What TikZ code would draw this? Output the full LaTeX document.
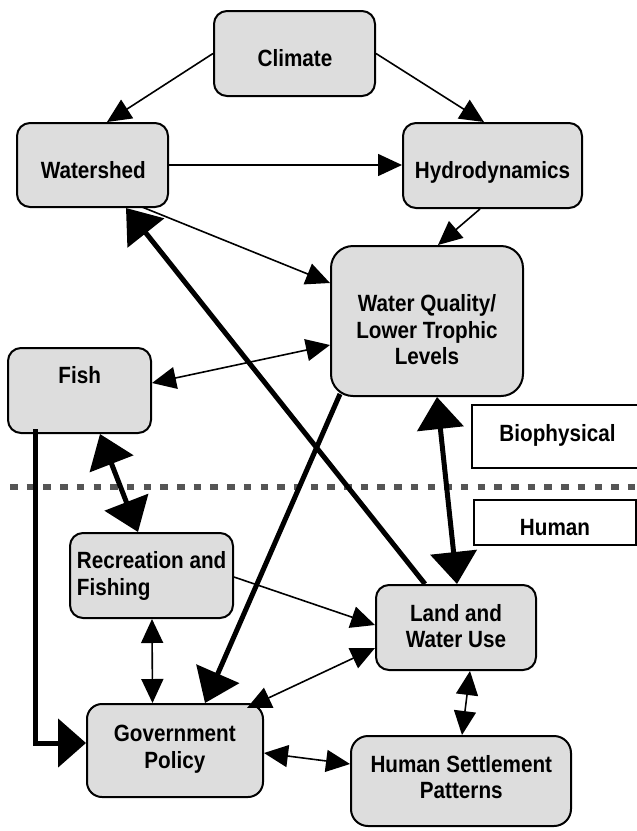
\documentclass[tikz,border=0pt]{standalone}
\usepackage{fontspec}
\setmainfont{Liberation Sans}[FakeStretch=0.88]
\usetikzlibrary{arrows.meta,calc}
\definecolor{boxgray}{RGB}{221,221,221}
\definecolor{dashgray}{RGB}{85,85,85}
\begin{document}
\begin{tikzpicture}[x=1pt,y=-1pt,
  box/.style={draw=black, line width=2pt, fill=boxgray, rounded corners=13pt, inner sep=0pt},
  tagbox/.style={draw=black, line width=2pt, fill=white, inner sep=0pt},
  txt/.style={font=\bfseries\fontsize{23.5}{27}\selectfont, inner sep=0pt, anchor=base},
  thin/.style={line width=1.6pt, -{Triangle[length=24pt,width=22pt]}},
  thinboth/.style={line width=1.6pt, {Triangle[length=24pt,width=22pt]}-{Triangle[length=24pt,width=22pt]}},
  thick/.style={line width=5pt, -{Triangle[length=32pt,width=46pt]}},
  thickboth/.style={line width=5pt, {Triangle[length=32pt,width=46pt]}-{Triangle[length=32pt,width=46pt]}}]
\useasboundingbox (0,0) rectangle (637,831);

% divider
\coordinate (dl) at (10,487);
\coordinate (dr) at (640,487);
\draw[dashgray, line width=6.5pt, dash pattern=on 7.5pt off 9.2pt] (dl) -- (dr);

% tag boxes
\node[tagbox, minimum width=168pt, minimum height=63pt] (bio) at (556,436.5) {};
\node[tagbox, minimum width=162pt, minimum height=45pt] (human) at (555,522.5) {};
\node[txt] (biot) at (557.5,441.7) {Biophysical};
\node[txt] (humant) at (555,535) {Human};

% boxes
\node[box, minimum width=161pt, minimum height=85pt] (climate) at (294.5,53.5) {};
\node[box, minimum width=151pt, minimum height=84pt] (watershed) at (92.5,165) {};
\node[box, minimum width=179pt, minimum height=85pt] (hydro) at (492.5,165.5) {};
\node[box, rounded corners=22pt, minimum width=192pt, minimum height=150pt] (wq) at (427,321) {};
\node[box, minimum width=143pt, minimum height=85pt] (fish) at (79.5,390.5) {};
\node[box, minimum width=163pt, minimum height=85pt] (rec) at (151.5,575.5) {};
\node[box, minimum width=160pt, minimum height=85pt] (land) at (456,627.5) {};
\node[box, rounded corners=15pt, minimum width=176pt, minimum height=93pt] (gov) at (175,750.5) {};
\node[box, rounded corners=17pt, minimum width=220pt, minimum height=90pt] (settle) at (461,781) {};

% texts
\node[txt] (climatet) at (295,66.7) {Climate};
\node[txt] (watershedt) at (93.3,178.3) {Watershed};
\node[txt] (hydrot) at (492.5,178.3) {Hydrodynamics};
\node[txt] (wqt1) at (427,311.7) {Water Quality/};
\node[txt] (wqt2) at (427,338) {Lower Trophic};
\node[txt] (wqt3) at (427,364.5) {Levels};
\node[txt] (fisht) at (79.7,383.3) {Fish};
\node[txt, anchor=base west] (rect1) at (76.7,568.3) {Recreation and};
\node[txt, anchor=base west] (rect2) at (76.7,595.7) {Fishing};
\node[txt] (landt1) at (456,621) {Land and};
\node[txt] (landt2) at (456,647.3) {Water Use};
\node[txt] (govt1) at (174.8,741.7) {Government};
\node[txt] (govt2) at (174.8,768.3) {Policy};
\node[txt] (settlet1) at (461.3,772.3) {Human Settlement};
\node[txt] (settlet2) at (461.3,798.3) {Patterns};

% connectors
\draw[thin] (climate.west) -- ($(watershed.north)+(14.5,0)$);
\draw[thin] (climate.east) -- ($(hydro.north)+(-8.5,0)$);
\draw[thin] (watershed.east) -- (watershed.east -| hydro.west);
\draw[thin] ($(hydro.south)+(-12.5,0)$) -- ($(wq.north)+(11,0)$);
\draw[thin] ($(watershed.south)+(49.5,-1)$) -- ($(wq.west)+(0,-38)$);
\draw[thinboth] ($(fish.east)+(0,-7.5)$) -- ($(wq.west)+(0,24)$);
\draw[thin] ($(rec.east)+(0,1.5)$) -- ($(land.west)+(0,-2.5)$);
\draw[thinboth] ($(rec.south)+(0.5,0)$) -- ($(gov.north)+(-22.5,0)$);
\draw[thinboth] ($(land.west)+(0,20.5)$) -- ($(gov.north east)+(-17,5)$);
\draw[thinboth] ($(land.south)+(14,0)$) -- ($(settle.north)+(1,0)$);
\draw[thinboth] ($(gov.east)+(0,2.5)$) -- ($(settle.west)+(0,-17)$);

\draw[thick] ($(land.north)+(-31,0)$) -- ($(watershed.south)+(33.5,0)$);
\draw[thickboth] ($(fish.south)+(20.5,0)$) -- ($(rec.north)+(-13.5,0)$);
\draw[line width=5pt, -{Triangle[length=28pt,width=48pt]}] ($(fish.south)+(-44.5,-5)$) |- ($(gov.west)+(0,-7.5)$);
\draw[thick] ($(wq.south)+(-87,-3)$) -- ($(gov.north)+(30,0)$);
\draw[thickboth] ($(wq.south)+(10,0)$) -- ($(land.north)+(1,0)$);
\end{tikzpicture}
\end{document}
